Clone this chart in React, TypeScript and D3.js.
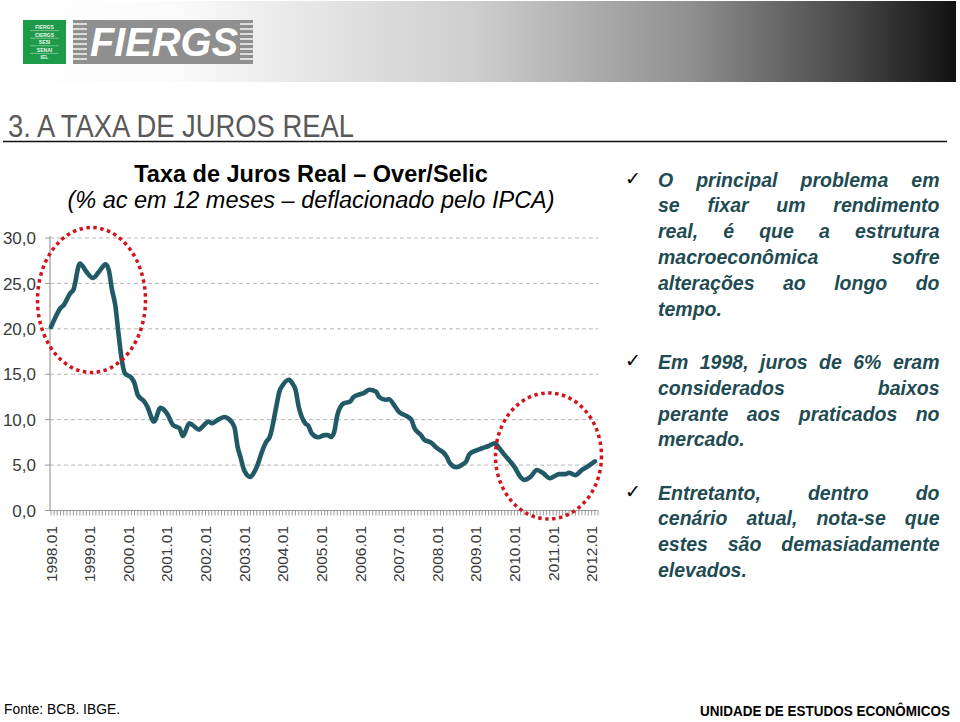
import React from 'react';
import * as d3 from 'd3';

// ---------- DATA ----------
const dates = [
  '1998-01','1998-02','1998-04','1998-05','1998-07','1998-08','1998-10','1998-12',
  '1999-02','1999-04','1999-06','1999-07','1999-08','1999-09','1999-10','1999-11','1999-12',
  '2000-02','2000-03','2000-04','2000-06','2000-07','2000-09','2000-11',
  '2001-01','2001-03','2001-05','2001-06','2001-08','2001-09','2001-11','2001-12',
  '2002-02','2002-03','2002-05','2002-07','2002-08','2002-10','2002-11','2002-12',
  '2003-01','2003-03','2003-04','2003-05','2003-07','2003-08','2003-09','2003-11','2003-12',
  '2004-01','2004-03','2004-04','2004-05','2004-06','2004-08','2004-09','2004-10','2004-12',
  '2005-02','2005-03','2005-04','2005-05','2005-06','2005-08','2005-10','2005-11',
  '2006-01','2006-02','2006-04','2006-06','2006-07','2006-09','2006-10','2006-12',
  '2007-01','2007-03','2007-05','2007-06','2007-08','2007-09','2007-11',
  '2008-01','2008-03','2008-04','2008-05','2008-07','2008-09','2008-10','2008-11',
  '2009-01','2009-03','2009-05','2009-07','2009-08','2009-10',
  '2010-01','2010-03','2010-04','2010-06','2010-08','2010-10','2010-12',
  '2011-01','2011-03','2011-05','2011-06','2011-08','2011-10','2011-12','2012-02',
];
const values = [
  20.2, 21.0, 22.3, 22.6, 23.9, 24.3, 27.2, 26.3,
  25.6, 26.3, 27.1, 26.5, 24.3, 22.6, 19.5, 16.6, 15.1,
  14.6, 14.0, 12.7, 12.0, 11.4, 9.8, 11.3,
  10.7, 9.4, 9.05, 8.2, 9.6, 9.4, 8.9, 9.2,
  9.8, 9.6, 10.0, 10.3, 10.15, 9.2, 7.0, 5.75,
  4.46, 3.7, 4.1, 4.8, 6.85, 7.6, 8.1, 11.4, 13.1,
  13.8, 14.4, 14.0, 13.3, 11.4, 9.6, 9.3, 8.5, 8.06,
  8.3, 8.3, 8.1, 8.6, 10.5, 11.8, 12.0, 12.5,
  12.8, 12.9, 13.3, 13.1, 12.5, 12.2, 12.25, 11.4,
  10.9, 10.5, 10.0, 9.05, 8.3, 7.8, 7.5,
  6.85, 6.37, 5.9, 5.2, 4.76, 5.1, 5.4, 6.2,
  6.6, 6.85, 7.1, 7.4, 7.0, 6.1,
  4.8, 3.66, 3.36, 3.7, 4.46, 4.1, 3.55,
  3.7, 4.0, 4.0, 4.16, 3.9, 4.46, 4.9, 5.4,
];
const yTicks = [0, 5, 10, 15, 20, 25, 30];
const xLabels = [
  '1998.01','1999.01','2000.01','2001.01','2002.01','2003.01','2004.01',
  '2005.01','2006.01','2007.01','2008.01','2009.01','2010.01','2011.01','2012.01',
];
const para1 = [
  'O principal problema em',
  'se fixar um rendimento',
  'real, é que a estrutura',
  'macroeconômica sofre',
  'alterações ao longo do',
  'tempo.',
];
const para2 = [
  'Em 1998, juros de 6% eram',
  'considerados baixos',
  'perante aos praticados no',
  'mercado.',
];
const para3 = [
  'Entretanto, dentro do',
  'cenário atual, nota-se que',
  'estes são demasiadamente',
  'elevados.',
];
const logoLines = ['FIERGS', 'CIERGS', 'SESI', 'SENAI', 'IEL'];

const W = 960;
const H = 722;
const BODY_FONT = `italic bold 19.5px "Liberation Sans"`;
const TEXT_COLOR = '#1f4b52';

function measure(word: string, font: string): number {
  const c = document.createElement('canvas');
  const ctx = c.getContext('2d');
  if (!ctx) return word.length * 10;
  ctx.font = font;
  return ctx.measureText(word).width;
}

function justifyLine(line: string, x0: number, x1: number, last: boolean) {
  const words = line.split(' ');
  const widths = words.map((w) => measure(w, BODY_FONT));
  const space = measure(' ', BODY_FONT);
  const total = widths.reduce((a, b) => a + b, 0);
  const gap = last || words.length < 2 ? space : (x1 - x0 - total) / (words.length - 1);
  const out: { w: string; x: number }[] = [];
  let cx = x0;
  words.forEach((w, i) => {
    out.push({ w, x: cx });
    cx += widths[i] + gap;
  });
  return out;
}

function Paragraph({ lines, y0, lh }: { lines: string[]; y0: number; lh: number }) {
  const x0 = 658;
  const x1 = 939.5;
  return (
    <g>
      <text x={625} y={y0 - 2} fontFamily="DejaVu Sans" fontSize={19} fill="#000">✓</text>
      {lines.map((ln, i) => (
        <g key={i}>
          {justifyLine(ln, x0, x1, i === lines.length - 1).map((p, j) => (
            <text
              key={j}
              x={p.x}
              y={y0 + i * lh}
              fontFamily="Liberation Sans, Arial, sans-serif"
              fontStyle="italic"
              fontWeight="bold"
              fontSize={19.5}
              fill={TEXT_COLOR}
            >
              {p.w}
            </text>
          ))}
        </g>
      ))}
    </g>
  );
}

export default function App() {
  const parse = d3.timeParse('%Y-%m');
  const data: [Date, number][] = dates.map((d, i) => [parse(d) as Date, values[i]]);

  const x = d3
    .scaleTime()
    .domain([new Date(1998, 0, 1), new Date(2012, 2, 1)])
    .range([51, 598]);
  const y = d3.scaleLinear().domain([0, 30]).range([510.5, 238]);

  const line = d3
    .line<[Date, number]>()
    .x((d) => x(d[0]))
    .y((d) => y(d[1]))
    .curve(d3.curveMonotoneX);

  const months = d3.timeMonths(new Date(1998, 0, 1), new Date(2012, 3, 1));
  const x0 = 50;
  const x1 = 598;

  return (
    <svg
      width={W}
      height={H}
      style={{ position: 'absolute', left: 0, top: 0, display: 'block', background: '#fff' }}
    >
      <defs>
        <linearGradient id="hdr" x1="0" y1="0" x2="1" y2="0">
          <stop offset="0" stopColor="#ffffff" />
          <stop offset="0.18" stopColor="#fbfbfb" />
          <stop offset="0.5" stopColor="#cdcdcd" />
          <stop offset="0.72" stopColor="#909090" />
          <stop offset="0.88" stopColor="#4c4c4c" />
          <stop offset="1" stopColor="#111111" />
        </linearGradient>
      </defs>

      {/* header band */}
      <rect x={0} y={1} width={956} height={81} fill="url(#hdr)" />

      {/* logo */}
      <rect x={23} y={20} width={43} height={44} fill="#1d9a4a" />
      {logoLines.map((t, i) => (
        <g key={t}>
          <text
            x={44.5}
            y={29 + i * 7.6}
            textAnchor="middle"
            fontFamily="Liberation Sans"
            fontWeight="bold"
            fontSize={5}
            fill="#e8f5ea"
          >
            {t}
          </text>
          {i < logoLines.length - 1 && (
            <line x1={30} x2={59} y1={30.6 + i * 7.6} y2={30.6 + i * 7.6} stroke="#cfe8d4" strokeWidth={0.5} />
          )}
        </g>
      ))}
      <rect x={73} y={20} width={180} height={44} fill="#8f8f8f" />
      {d3.range(8).map((i) => (
        <g key={i}>
          <line x1={73} x2={87} y1={24 + i * 5} y2={24 + i * 5} stroke="#f2f2f2" strokeWidth={1.6} />
          <line x1={240} x2={253} y1={24 + i * 5} y2={24 + i * 5} stroke="#f2f2f2" strokeWidth={1.6} />
        </g>
      ))}
      <text
        x={90}
        y={56}
        textLength={148}
        lengthAdjust="spacingAndGlyphs"
        fontFamily="Liberation Sans, Arial"
        fontWeight="bold"
        fontStyle="italic"
        fontSize={40}
        fill="#ffffff"
      >
        FIERGS
      </text>

      {/* slide title */}
      <text
        x={8}
        y={137}
        textLength={346}
        lengthAdjust="spacingAndGlyphs"
        fontFamily="Liberation Sans, Arial"
        fontSize={30.5}
        fill="#595959"
      >
        3. A TAXA DE JUROS REAL
      </text>
      <line x1={3} x2={947} y1={141.5} y2={141.5} stroke="#111" strokeWidth={1.6} />

      {/* chart title */}
      <text
        x={311}
        y={182}
        textAnchor="middle"
        fontFamily="Liberation Sans, Arial"
        fontWeight="bold"
        fontSize={23.5}
        fill="#000"
      >
        Taxa de Juros Real – Over/Selic
      </text>
      <text
        x={311}
        y={208}
        textAnchor="middle"
        fontFamily="Liberation Sans, Arial"
        fontStyle="italic"
        fontSize={23.5}
        fill="#000"
      >
        (% ac em 12 meses – deflacionado pelo IPCA)
      </text>

      {/* gridlines */}
      {yTicks.filter((t) => t > 0).map((t) => (
        <line
          key={t}
          x1={x0}
          x2={x1}
          y1={y(t)}
          y2={y(t)}
          stroke="#b5b5b5"
          strokeWidth={1}
          strokeDasharray="4 3"
        />
      ))}
      {/* axes */}
      <line x1={x0} x2={x0} y1={y(30) - 2} y2={y(0)} stroke="#9a9a9a" strokeWidth={1.2} />
      <line x1={x0} x2={x1} y1={y(0)} y2={y(0)} stroke="#9a9a9a" strokeWidth={1.2} />
      {months.map((m, i) => (
        <line key={i} x1={x(m)} x2={x(m)} y1={y(0)} y2={y(0) + 5} stroke="#9a9a9a" strokeWidth={1} />
      ))}
      {yTicks.map((t) => (
        <line key={'t' + t} x1={x0 - 5} x2={x0} y1={y(t)} y2={y(t)} stroke="#9a9a9a" strokeWidth={1} />
      ))}
      {yTicks.map((t) => (
        <text
          key={'l' + t}
          x={36}
          y={y(t)}
          dy="0.36em"
          textAnchor="end"
          fontFamily="Liberation Sans, Arial"
          fontSize={17}
          fill="#3a3a3a"
        >
          {d3.format('.1f')(t).replace('.', ',')}
        </text>
      ))}
      {xLabels.map((lbl) => {
        const d = parse(lbl.replace('.', '-')) as Date;
        const px = x(d);
        return (
          <text
            key={lbl}
            transform={`translate(${px},526) rotate(-90)`}
            dy="0.36em"
            textAnchor="end"
            fontFamily="Liberation Sans, Arial"
            fontSize={15.5}
            fill="#3a3a3a"
          >
            {lbl}
          </text>
        );
      })}

      {/* series */}
      <path
        d={line(data) || ''}
        fill="none"
        stroke="#215a66"
        strokeWidth={4.6}
        strokeLinejoin="round"
        strokeLinecap="round"
      />

      {/* highlight ellipses */}
      <ellipse
        cx={91.5}
        cy={300}
        rx={54}
        ry={72.5}
        fill="none"
        stroke="#d2141c"
        strokeWidth={3.5}
        strokeDasharray="3.5 3.5"
      />
      <ellipse
        cx={548.5}
        cy={456}
        rx={53}
        ry={63}
        fill="none"
        stroke="#d2141c"
        strokeWidth={3.5}
        strokeDasharray="3.5 3.5"
      />

      {/* bullet text */}
      <Paragraph lines={para1} y0={186.5} lh={25.8} />
      <Paragraph lines={para2} y0={369.3} lh={25.6} />
      <Paragraph lines={para3} y0={499.5} lh={25.9} />

      {/* footer */}
      <text
        x={4}
        y={714}
        textLength={116}
        lengthAdjust="spacingAndGlyphs"
        fontFamily="Liberation Sans, Arial"
        fontSize={15}
        fill="#000"
      >
        Fonte: BCB. IBGE.
      </text>
      <text
        x={700}
        y={716}
        textLength={250}
        lengthAdjust="spacingAndGlyphs"
        fontFamily="Liberation Sans, Arial"
        fontWeight="bold"
        fontSize={14}
        fill="#000"
      >
        UNIDADE DE ESTUDOS ECONÔMICOS
      </text>
    </svg>
  );
}
